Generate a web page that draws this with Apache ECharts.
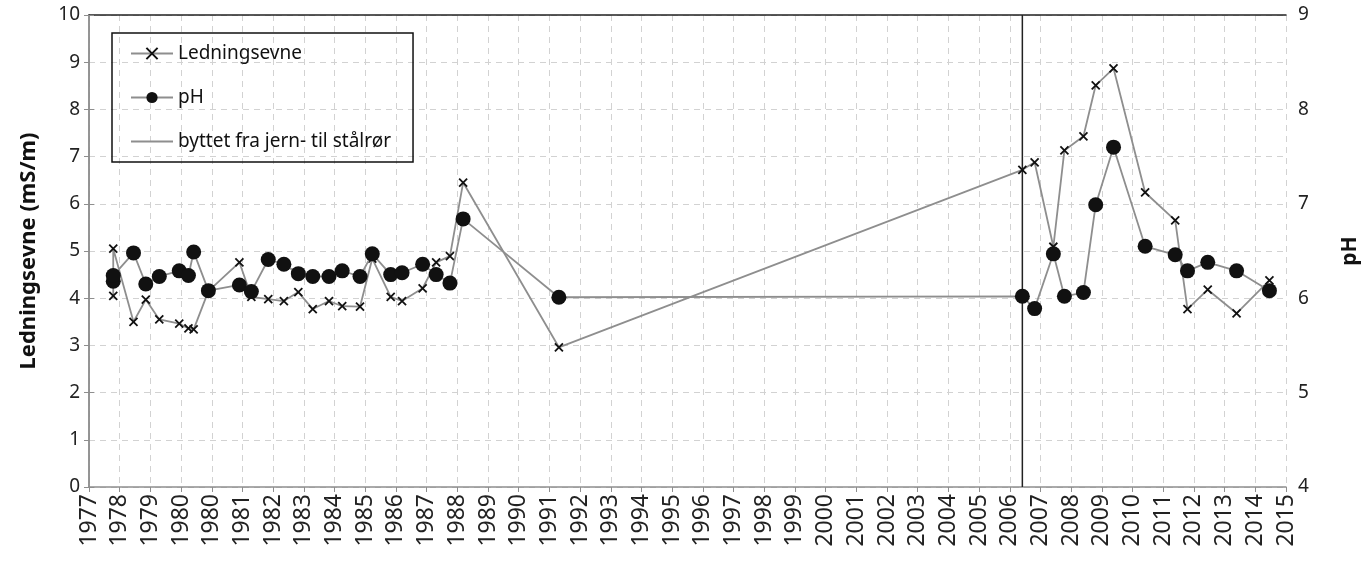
<!DOCTYPE html>
<html>
<head>
<meta charset="utf-8">
<script src="https://cdn.jsdelivr.net/npm/echarts@6/dist/echarts.min.js"></script>
<style>
  html, body { margin: 0; padding: 0; background: #fff; }
  #main { width: 1372px; height: 565px; }
</style>
</head>
<body>
<div id="main"></div>
<script>
// x-akse: Excel-datoakse med 365-dagers steg, derfor 1980 to ganger
var tickLabels = ['1977','1978','1979','1980','1980','1981','1982','1983','1984','1985',
    '1986','1987','1988','1989','1990','1991','1992','1993','1994','1995','1996','1997',
    '1998','1999','2000','2001','2002','2003','2004','2005','2006','2007','2008','2009',
    '2010','2011','2012','2013','2014','2015'];

// prøvetidspunkt, målt i akse-steg fra 1977
var sampleX = [0.79,0.79,1.45,1.85,2.29,2.94,3.24,3.41,3.89,4.90,5.29,5.84,6.35,6.82,7.29,
    7.82,8.25,8.83,9.23,9.83,10.20,10.87,11.31,11.76,12.19,15.31,30.41,30.81,31.42,31.78,
    32.40,32.80,33.38,34.41,35.39,35.79,36.45,37.39,38.46];

// Ledningsevne (mS/m)
var ledningsevne = [4.05,5.05,3.50,3.97,3.55,3.46,3.36,3.34,4.15,4.76,4.03,3.98,3.94,4.13,
    3.77,3.94,3.83,3.82,4.84,4.03,3.94,4.21,4.76,4.89,6.45,2.96,6.72,6.88,5.09,7.13,7.43,
    8.51,8.87,6.24,5.65,3.77,4.18,3.68,4.38];

// pH
var ph = [6.18,6.24,6.48,6.15,6.23,6.29,6.24,6.49,6.08,6.14,6.07,6.41,6.36,6.26,6.23,6.23,
    6.29,6.23,6.47,6.25,6.27,6.36,6.25,6.16,6.84,6.01,6.02,5.89,6.47,6.02,6.06,6.99,7.60,
    6.55,6.46,6.29,6.38,6.29,6.08];

// byttet fra jern- til stålrør
var byttetX = 30.41;
var byttetY = [0, 10];

function pairs(xs, ys) {
    var out = [];
    for (var i = 0; i < xs.length; i++) {
        out.push([xs[i], ys[i]]);
    }
    return out;
}

var font = 'Noto Sans';
var grey = '#8e8e8e';
var crossPath = 'path://M0,0L10,10M10,0L0,10';

var chart = echarts.init(document.getElementById('main'));
chart.setOption({
    animation: false,
    backgroundColor: '#fff',
    textStyle: { fontFamily: font },
    grid: {
        left: 89, right: 86, top: 15, bottom: 78,
        show: false
    },
    legend: {
        orient: 'vertical',
        left: 112, top: 33,
        padding: [11, 22, 11, 18],
        itemGap: 25,
        itemWidth: 42,
        itemHeight: 14,
        borderColor: '#111',
        borderWidth: 1.5,
        textStyle: { fontSize: 19, color: '#111', fontFamily: font },
        data: [
            { name: 'Ledningsevne' },
            { name: 'pH' },
            {
                name: 'byttet fra jern- til stålrør',
                lineStyle: { color: grey },
                itemStyle: { color: 'transparent', borderWidth: 0, opacity: 0 }
            }
        ]
    },
    xAxis: [{
        type: 'value',
        min: 0, max: 39, interval: 1,
        axisLine: { show: true, lineStyle: { color: grey, width: 1.5 } },
        axisTick: { show: true, length: 5, lineStyle: { color: grey } },
        axisLabel: {
            rotate: 90, margin: 7, fontSize: 23, color: '#222', fontFamily: font,
            formatter: function (v) { return tickLabels[Math.round(v)]; }
        },
        splitLine: { show: true, lineStyle: { color: '#d2d2d2', type: [6, 5] } }
    }, {
        // øverste ramme
        type: 'value',
        position: 'top',
        min: 0, max: 39, interval: 1,
        axisLine: { show: true, lineStyle: { color: '#222', width: 1.5 } },
        axisTick: { show: false },
        axisLabel: { show: false },
        splitLine: { show: false }
    }],
    yAxis: [{
        type: 'value',
        min: 0, max: 10, interval: 1,
        name: 'Ledningsevne (mS/m)',
        nameLocation: 'middle',
        nameGap: 49,
        nameTextStyle: { fontSize: 22, fontWeight: 'bold', color: '#111', fontFamily: font },
        axisLine: { show: true, lineStyle: { color: grey, width: 1.5 } },
        axisTick: { show: true, length: 5, lineStyle: { color: grey } },
        axisLabel: { fontSize: 19, color: '#222', margin: 9, fontFamily: font },
        splitLine: { show: true, lineStyle: { color: '#d2d2d2', type: [6, 5] } }
    }, {
        type: 'value',
        min: 4, max: 9, interval: 1,
        position: 'right',
        name: 'pH',
        nameLocation: 'middle',
        nameGap: 54,
        nameTextStyle: { fontSize: 21, fontWeight: 'bold', color: '#111', fontFamily: font },
        axisLine: { show: true, lineStyle: { color: grey, width: 1.5 } },
        axisTick: { show: true, length: 5, lineStyle: { color: grey } },
        axisLabel: { fontSize: 19, color: '#222', margin: 12, fontFamily: font },
        splitLine: { show: false }
    }],
    series: [
        {
            name: 'byttet fra jern- til stålrør',
            type: 'line',
            yAxisIndex: 0,
            data: pairs([byttetX, byttetX], byttetY),
            symbol: 'none',
            lineStyle: { color: '#222', width: 1.5 },
            itemStyle: { color: '#222' },
            z: 1
        },
        {
            name: 'Ledningsevne',
            type: 'line',
            yAxisIndex: 0,
            data: pairs(sampleX, ledningsevne),
            symbol: crossPath,
            symbolSize: 8,
            lineStyle: { color: grey, width: 1.8 },
            itemStyle: { color: 'transparent', borderColor: '#111', borderWidth: 1.8 },
            z: 2
        },
        {
            name: 'pH',
            type: 'line',
            yAxisIndex: 1,
            data: pairs(sampleX, ph),
            symbol: 'circle',
            symbolSize: 15,
            lineStyle: { color: grey, width: 1.8 },
            itemStyle: { color: '#111', borderWidth: 0 },
            z: 3
        }
    ]
});
</script>
</body>
</html>
